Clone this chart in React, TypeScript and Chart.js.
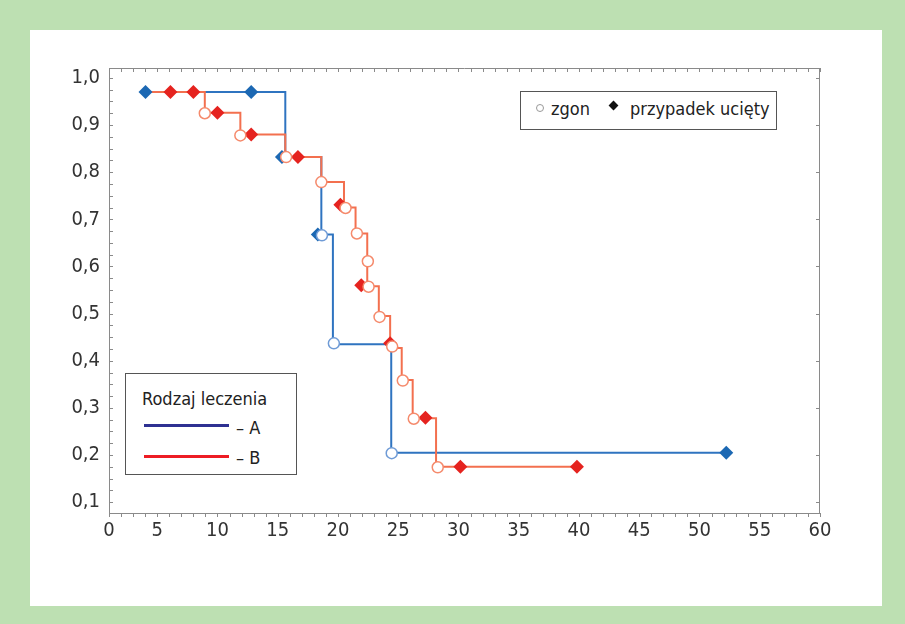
import React, { useEffect, useRef } from 'react';
import { Chart, registerables } from 'chart.js';

Chart.register(...registerables);

// ---- data ----
const xTickValues = [1, 5, 10, 15, 20, 25, 30, 35, 40, 45, 50, 55, 60];
const xTickLabels = ['0', '5', '10', '15', '20', '25', '30', '35', '40', '45', '50', '55', '60'];
const yTickValues = [0.1, 0.2, 0.3, 0.4, 0.5, 0.6, 0.7, 0.8, 0.9, 1.0];
const yTickLabels = ['0,1', '0,2', '0,3', '0,4', '0,5', '0,6', '0,7', '0,8', '0,9', '1,0'];

// Group B (red) – Kaplan-Meier step curve
const redStepT = [4.0, 8.95, 11.9, 15.63, 18.62, 20.5, 21.46, 22.43, 22.43, 23.39, 24.33, 25.29, 26.2, 28.14, 39.83];
const redStepS = [0.970, 0.926, 0.880, 0.832, 0.779, 0.725, 0.670, 0.611, 0.558, 0.495, 0.427, 0.359, 0.278, 0.175, 0.175];
const redEventT = [8.95, 11.9, 15.7, 18.62, 20.63, 21.57, 22.48, 22.54, 23.45, 24.5, 25.38, 26.29, 28.28];
const redEventS = [0.925, 0.878, 0.832, 0.779, 0.724, 0.670, 0.611, 0.557, 0.493, 0.430, 0.358, 0.277, 0.174];
const redCensT = [6.1, 8.0, 10.0, 12.8, 16.68, 20.2, 21.93, 24.33, 27.26, 30.16, 39.83];
const redCensS = [0.970, 0.970, 0.926, 0.880, 0.832, 0.731, 0.560, 0.437, 0.279, 0.175, 0.175];

// Group A (blue)
const blueStepT = [4.0, 15.63, 18.62, 19.58, 24.42, 52.22];
const blueStepS = [0.970, 0.832, 0.668, 0.435, 0.205, 0.205];
const blueEventT = [18.67, 19.66, 24.46];
const blueEventS = [0.666, 0.437, 0.204];
const blueCensT = [4.03, 12.8, 15.35, 18.33, 52.22];
const blueCensS = [0.970, 0.970, 0.832, 0.668, 0.205];

// ---- styles ----
const GREEN = '#bde0b2';
const AXIS = '#8a8a8a';
const TEXT = '#333333';
const FONT = "'Liberation Sans Narrow', 'DejaVu Sans Condensed', 'Roboto Condensed', Roboto, sans-serif";
const RED_LINE = '#f3704f';
const RED_MARK = '#e5231f';
const RED_CIRCLE = '#f58a6c';
const BLUE_LINE = '#2f74c0';
const BLUE_MARK = '#1c68b3';
const BLUE_CIRCLE = '#6f9bd6';

const pts = (t: number[], s: number[]) => t.map((v, i) => ({ x: v, y: s[i] }));

const framePlugin = {
  id: 'frameTicks',
  beforeDatasetsDraw(chart: any) {
    const { ctx, chartArea: a, scales } = chart;
    const x = scales.x;
    const y = scales.y;
    ctx.save();
    ctx.strokeStyle = AXIS;
    ctx.lineWidth = 1;
    ctx.beginPath();
    ctx.moveTo(a.left, a.top + 0.5);
    ctx.lineTo(a.right, a.top + 0.5);
    ctx.moveTo(a.right - 0.5, a.top);
    ctx.lineTo(a.right - 0.5, a.bottom);
    for (let v = x.min; v <= x.max + 1e-6; v += 1) {
      const px = Math.round(x.getPixelForValue(v)) + 0.5;
      ctx.moveTo(px, a.bottom);
      ctx.lineTo(px, a.bottom + 4);
      ctx.moveTo(px, a.top);
      ctx.lineTo(px, a.top + 4);
    }
    for (let v = 0.1; v <= y.max + 1e-6; v += 0.025) {
      const py = Math.round(y.getPixelForValue(v)) + 0.5;
      ctx.moveTo(a.left, py);
      ctx.lineTo(a.left + 4, py);
    }
    for (const v of yTickValues) {
      const py = Math.round(y.getPixelForValue(v)) + 0.5;
      ctx.moveTo(a.right, py);
      ctx.lineTo(a.right - 4, py);
    }
    ctx.stroke();
    ctx.restore();
  },
};

export default function App() {
  const ref = useRef<HTMLCanvasElement>(null);

  useEffect(() => {
    const circle = (color: string) => ({
      showLine: false,
      pointStyle: 'circle',
      pointRadius: 5.5,
      pointBackgroundColor: '#ffffff',
      pointBorderColor: color,
      pointBorderWidth: 1.5,
    });
    const diamond = (color: string) => ({
      showLine: false,
      pointStyle: 'rectRot',
      pointRadius: 7,
      pointBackgroundColor: color,
      pointBorderColor: color,
      pointBorderWidth: 0,
    });
    const chart = new Chart(ref.current as HTMLCanvasElement, {
      type: 'scatter',
      data: {
        datasets: [
          { label: 'B zgon', data: pts(redEventT, redEventS), order: 1, ...circle(RED_CIRCLE) } as any,
          { label: 'A zgon', data: pts(blueEventT, blueEventS), order: 1, ...circle(BLUE_CIRCLE) } as any,
          { label: 'B ucięty', data: pts(redCensT, redCensS), order: 2, ...diamond(RED_MARK) } as any,
          { label: 'A ucięty', data: pts(blueCensT, blueCensS), order: 3, ...diamond(BLUE_MARK) } as any,
          {
            label: 'B',
            data: pts(redStepT, redStepS),
            showLine: true,
            stepped: true,
            borderColor: RED_LINE,
            borderWidth: 2,
            pointRadius: 0,
            order: 4,
          } as any,
          {
            label: 'A',
            data: pts(blueStepT, blueStepS),
            showLine: true,
            stepped: true,
            borderColor: BLUE_LINE,
            borderWidth: 2,
            pointRadius: 0,
            order: 5,
          } as any,
        ],
      },
      options: {
        responsive: false,
        animation: false,
        devicePixelRatio: 1,
        layout: { padding: { left: 0, right: 85, top: 68, bottom: 71 } },
        plugins: { legend: { display: false }, tooltip: { enabled: false } },
        scales: {
          x: {
            type: 'linear',
            min: 1,
            max: 60,
            afterBuildTicks: (s: any) => {
              s.ticks = xTickValues.map((value) => ({ value }));
            },
            afterFit: (s: any) => {
              s.height = 40;
            },
            grid: { display: false, drawTicks: false },
            border: { display: true, color: AXIS, width: 1 },
            ticks: {
              autoSkip: false,
              maxRotation: 0,
              padding: 6,
              color: TEXT,
              font: { family: FONT, size: 20 },
              callback: (_v: any, i: number) => xTickLabels[i],
            },
          },
          y: {
            type: 'linear',
            min: 0.077,
            max: 1.021,
            afterBuildTicks: (s: any) => {
              s.ticks = yTickValues.map((value) => ({ value }));
            },
            afterFit: (s: any) => {
              s.width = 109;
            },
            grid: { display: false, drawTicks: false },
            border: { display: true, color: AXIS, width: 1 },
            ticks: {
              autoSkip: false,
              padding: 9,
              color: TEXT,
              font: { family: FONT, size: 20 },
              callback: (_v: any, i: number) => yTickLabels[i],
            },
          },
        },
      },
      plugins: [framePlugin],
    });
    return () => chart.destroy();
  }, []);

  const txt: React.CSSProperties = {
    position: 'absolute',
    fontFamily: FONT,
    fontSize: 18,
    color: '#222',
    lineHeight: '24px',
    whiteSpace: 'nowrap',
  };

  return (
    <div style={{ position: 'absolute', left: 0, top: 0, width: 905, height: 624, background: GREEN, overflow: 'hidden' }}>
      <div style={{ position: 'absolute', left: 30, top: 30, width: 852, height: 576, background: '#ffffff' }} />
      <canvas ref={ref} width={905} height={624} style={{ position: 'absolute', left: 0, top: 0, width: 905, height: 624 }} />
      {/* marker legend */}
      <div style={{ position: 'absolute', left: 520, top: 91, width: 255, height: 37, border: '1px solid #555', background: '#fff' }}>
        <div style={{ position: 'absolute', left: 15, top: 12, width: 6, height: 6, borderRadius: '50%', border: '1px solid #999' }} />
        <div style={{ ...txt, left: 30, top: 5 }}>zgon</div>
        <div style={{ position: 'absolute', left: 89, top: 10, width: 7, height: 7, background: '#111', transform: 'rotate(45deg)' }} />
        <div style={{ ...txt, left: 109, top: 5 }}>przypadek ucięty</div>
      </div>
      {/* group legend */}
      <div style={{ position: 'absolute', left: 125, top: 373, width: 170, height: 100, border: '1px solid #555', background: '#fff' }}>
        <div style={{ ...txt, left: 16, top: 13 }}>Rodzaj leczenia</div>
        <div style={{ position: 'absolute', left: 18, top: 50, width: 85, height: 3, background: '#2e3192' }} />
        <div style={{ ...txt, left: 110, top: 42 }}>– A</div>
        <div style={{ position: 'absolute', left: 18, top: 81, width: 85, height: 3, background: '#ed1c24' }} />
        <div style={{ ...txt, left: 110, top: 72 }}>– B</div>
      </div>
    </div>
  );
}
